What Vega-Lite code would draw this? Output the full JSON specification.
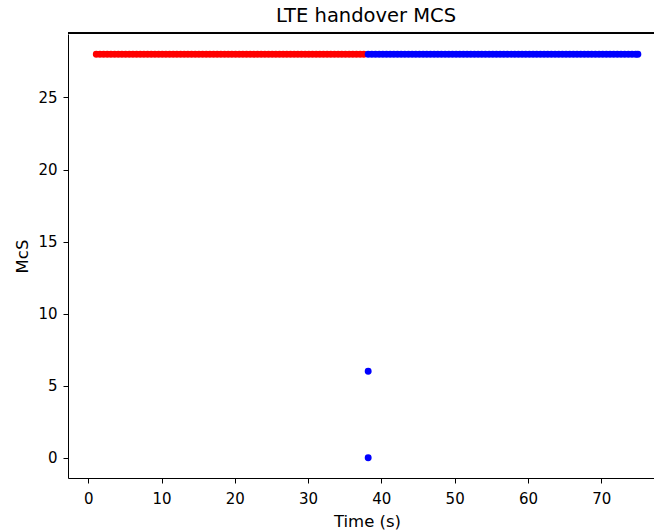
{
"$schema":"https://vega.github.io/schema/vega-lite/v6.json",
"width":586,"height":444,
"autosize":{"type":"none"},
"padding":{"left":68,"top":34,"right":0,"bottom":54},
"background":"white",
"title":{"text":"LTE handover MCS","font":"DejaVu Sans","fontSize":19.5,"fontWeight":"normal","color":"black","baseline":"alphabetic","frame":"group","offset":15,"dx":5,"dy":24},
"config":{"view":{"stroke":null},"axis":{"grid":false,"domainColor":"black","domainWidth":1,"tickColor":"black","tickSize":5,"labelColor":"black","labelFont":"DejaVu Sans","labelFontSize":15,"titleFont":"DejaVu Sans","titleFontSize":16.5,"titleFontWeight":"normal","titleColor":"black"}},
"data":{"values":[
{"time":1.1,"mcs":28,"cell":"A"},{"time":1.6,"mcs":28,"cell":"A"},{"time":2.1,"mcs":28,"cell":"A"},{"time":2.6,"mcs":28,"cell":"A"},{"time":3.1,"mcs":28,"cell":"A"},{"time":3.6,"mcs":28,"cell":"A"},{"time":4.1,"mcs":28,"cell":"A"},{"time":4.6,"mcs":28,"cell":"A"},{"time":5.1,"mcs":28,"cell":"A"},{"time":5.6,"mcs":28,"cell":"A"},
{"time":6.1,"mcs":28,"cell":"A"},{"time":6.6,"mcs":28,"cell":"A"},{"time":7.1,"mcs":28,"cell":"A"},{"time":7.6,"mcs":28,"cell":"A"},{"time":8.1,"mcs":28,"cell":"A"},{"time":8.6,"mcs":28,"cell":"A"},{"time":9.1,"mcs":28,"cell":"A"},{"time":9.6,"mcs":28,"cell":"A"},{"time":10.1,"mcs":28,"cell":"A"},{"time":10.6,"mcs":28,"cell":"A"},
{"time":11.1,"mcs":28,"cell":"A"},{"time":11.6,"mcs":28,"cell":"A"},{"time":12.1,"mcs":28,"cell":"A"},{"time":12.6,"mcs":28,"cell":"A"},{"time":13.1,"mcs":28,"cell":"A"},{"time":13.6,"mcs":28,"cell":"A"},{"time":14.1,"mcs":28,"cell":"A"},{"time":14.6,"mcs":28,"cell":"A"},{"time":15.1,"mcs":28,"cell":"A"},{"time":15.6,"mcs":28,"cell":"A"},
{"time":16.1,"mcs":28,"cell":"A"},{"time":16.6,"mcs":28,"cell":"A"},{"time":17.1,"mcs":28,"cell":"A"},{"time":17.6,"mcs":28,"cell":"A"},{"time":18.1,"mcs":28,"cell":"A"},{"time":18.6,"mcs":28,"cell":"A"},{"time":19.1,"mcs":28,"cell":"A"},{"time":19.6,"mcs":28,"cell":"A"},{"time":20.1,"mcs":28,"cell":"A"},{"time":20.6,"mcs":28,"cell":"A"},
{"time":21.1,"mcs":28,"cell":"A"},{"time":21.6,"mcs":28,"cell":"A"},{"time":22.1,"mcs":28,"cell":"A"},{"time":22.6,"mcs":28,"cell":"A"},{"time":23.1,"mcs":28,"cell":"A"},{"time":23.6,"mcs":28,"cell":"A"},{"time":24.1,"mcs":28,"cell":"A"},{"time":24.6,"mcs":28,"cell":"A"},{"time":25.1,"mcs":28,"cell":"A"},{"time":25.6,"mcs":28,"cell":"A"},
{"time":26.1,"mcs":28,"cell":"A"},{"time":26.6,"mcs":28,"cell":"A"},{"time":27.1,"mcs":28,"cell":"A"},{"time":27.6,"mcs":28,"cell":"A"},{"time":28.1,"mcs":28,"cell":"A"},{"time":28.6,"mcs":28,"cell":"A"},{"time":29.1,"mcs":28,"cell":"A"},{"time":29.6,"mcs":28,"cell":"A"},{"time":30.1,"mcs":28,"cell":"A"},{"time":30.6,"mcs":28,"cell":"A"},
{"time":31.1,"mcs":28,"cell":"A"},{"time":31.6,"mcs":28,"cell":"A"},{"time":32.1,"mcs":28,"cell":"A"},{"time":32.6,"mcs":28,"cell":"A"},{"time":33.1,"mcs":28,"cell":"A"},{"time":33.6,"mcs":28,"cell":"A"},{"time":34.1,"mcs":28,"cell":"A"},{"time":34.6,"mcs":28,"cell":"A"},{"time":35.1,"mcs":28,"cell":"A"},{"time":35.6,"mcs":28,"cell":"A"},
{"time":36.1,"mcs":28,"cell":"A"},{"time":36.6,"mcs":28,"cell":"A"},{"time":37.1,"mcs":28,"cell":"A"},{"time":37.6,"mcs":28,"cell":"A"},
{"time":38.2,"mcs":28,"cell":"B"},{"time":38.7,"mcs":28,"cell":"B"},{"time":39.2,"mcs":28,"cell":"B"},{"time":39.7,"mcs":28,"cell":"B"},{"time":40.2,"mcs":28,"cell":"B"},{"time":40.7,"mcs":28,"cell":"B"},{"time":41.2,"mcs":28,"cell":"B"},{"time":41.7,"mcs":28,"cell":"B"},{"time":42.2,"mcs":28,"cell":"B"},{"time":42.7,"mcs":28,"cell":"B"},
{"time":43.2,"mcs":28,"cell":"B"},{"time":43.7,"mcs":28,"cell":"B"},{"time":44.2,"mcs":28,"cell":"B"},{"time":44.7,"mcs":28,"cell":"B"},{"time":45.2,"mcs":28,"cell":"B"},{"time":45.7,"mcs":28,"cell":"B"},{"time":46.2,"mcs":28,"cell":"B"},{"time":46.7,"mcs":28,"cell":"B"},{"time":47.2,"mcs":28,"cell":"B"},{"time":47.7,"mcs":28,"cell":"B"},
{"time":48.2,"mcs":28,"cell":"B"},{"time":48.7,"mcs":28,"cell":"B"},{"time":49.2,"mcs":28,"cell":"B"},{"time":49.7,"mcs":28,"cell":"B"},{"time":50.2,"mcs":28,"cell":"B"},{"time":50.7,"mcs":28,"cell":"B"},{"time":51.2,"mcs":28,"cell":"B"},{"time":51.7,"mcs":28,"cell":"B"},{"time":52.2,"mcs":28,"cell":"B"},{"time":52.7,"mcs":28,"cell":"B"},
{"time":53.2,"mcs":28,"cell":"B"},{"time":53.7,"mcs":28,"cell":"B"},{"time":54.2,"mcs":28,"cell":"B"},{"time":54.7,"mcs":28,"cell":"B"},{"time":55.2,"mcs":28,"cell":"B"},{"time":55.7,"mcs":28,"cell":"B"},{"time":56.2,"mcs":28,"cell":"B"},{"time":56.7,"mcs":28,"cell":"B"},{"time":57.2,"mcs":28,"cell":"B"},{"time":57.7,"mcs":28,"cell":"B"},
{"time":58.2,"mcs":28,"cell":"B"},{"time":58.7,"mcs":28,"cell":"B"},{"time":59.2,"mcs":28,"cell":"B"},{"time":59.7,"mcs":28,"cell":"B"},{"time":60.2,"mcs":28,"cell":"B"},{"time":60.7,"mcs":28,"cell":"B"},{"time":61.2,"mcs":28,"cell":"B"},{"time":61.7,"mcs":28,"cell":"B"},{"time":62.2,"mcs":28,"cell":"B"},{"time":62.7,"mcs":28,"cell":"B"},
{"time":63.2,"mcs":28,"cell":"B"},{"time":63.7,"mcs":28,"cell":"B"},{"time":64.2,"mcs":28,"cell":"B"},{"time":64.7,"mcs":28,"cell":"B"},{"time":65.2,"mcs":28,"cell":"B"},{"time":65.7,"mcs":28,"cell":"B"},{"time":66.2,"mcs":28,"cell":"B"},{"time":66.7,"mcs":28,"cell":"B"},{"time":67.2,"mcs":28,"cell":"B"},{"time":67.7,"mcs":28,"cell":"B"},
{"time":68.2,"mcs":28,"cell":"B"},{"time":68.7,"mcs":28,"cell":"B"},{"time":69.2,"mcs":28,"cell":"B"},{"time":69.7,"mcs":28,"cell":"B"},{"time":70.2,"mcs":28,"cell":"B"},{"time":70.7,"mcs":28,"cell":"B"},{"time":71.2,"mcs":28,"cell":"B"},{"time":71.7,"mcs":28,"cell":"B"},{"time":72.2,"mcs":28,"cell":"B"},{"time":72.7,"mcs":28,"cell":"B"},
{"time":73.2,"mcs":28,"cell":"B"},{"time":73.7,"mcs":28,"cell":"B"},{"time":74.2,"mcs":28,"cell":"B"},{"time":74.7,"mcs":28,"cell":"B"},{"time":75.0,"mcs":28,"cell":"B"},
{"time":38.2,"mcs":6,"cell":"B"},{"time":38.2,"mcs":0,"cell":"B"}
]},
"layer":[
{"mark":{"type":"rule","color":"black","strokeWidth":1},
 "encoding":{"y":{"datum":29.435,"type":"quantitative"}}},
{"mark":{"type":"circle","size":48,"opacity":1},
 "encoding":{
  "x":{"field":"time","type":"quantitative","scale":{"domain":[-2.76,77.2],"nice":false,"zero":false},
       "axis":{"orient":"bottom","title":"Time (s)","values":[0,10,20,30,40,50,60,70],"labelPadding":8,"labelFlush":false,"titleX":299,"titleY":48,"titleBaseline":"alphabetic","titleAnchor":null}},
  "y":{"field":"mcs","type":"quantitative","scale":{"domain":[-1.4,29.4],"nice":false,"zero":false},
       "axis":{"title":"McS","values":[0,5,10,15,20,25],"labelPadding":6,"labelFlush":false,"titleX":-46,"titleY":222,"titleBaseline":"middle","titleAnchor":null}},
  "color":{"field":"cell","type":"nominal","scale":{"domain":["A","B"],"range":["#ff0000","#0000ff"]},"legend":null}
 }}
]
}
